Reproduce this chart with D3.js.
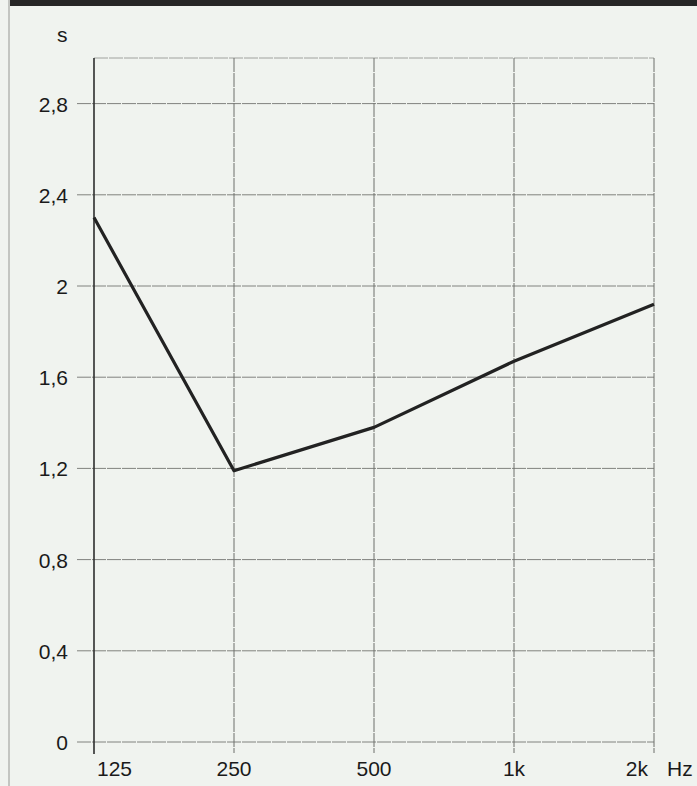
<!DOCTYPE html>
<html>
  <body>
    <script src="https://cdn.jsdelivr.net/npm/d3@7"></script>
    <style>
      body{ margin: 0; background: #f0f3ef; }
      svg{ display: block; font-family: "Liberation Sans", Arial, sans-serif; }
      .grid line{ stroke: #80827e; stroke-width: 1; stroke-dasharray: 14 1; }
      .grid .v{ stroke: #6c6e6a; }
      .lbl{ font-size: 21px; fill: #1a1a1a; }
    </style>
    <script>
var bands = ['125', '250', '500', '1k', '2k']
  , seconds = [2.30, 1.19, 1.38, 1.67, 1.92]
  , yTicks = [0, 0.4, 0.8, 1.2, 1.6, 2, 2.4, 2.8]
  , width = 697, height = 786
  , padL = 94, padR = 654, padT = 58, padB = 742

var svg = d3.select('body').append('svg')
  .attr('width', width).attr('height', height)

var x = d3.scalePoint().domain(bands).range([padL, padR])
var y = d3.scaleLinear().domain([0, 3]).range([padB, padT])

// page edge and the cut-off heading rule above the chart
svg.append('line').attr('x1', 9).attr('x2', 9).attr('y1', 0).attr('y2', height)
  .attr('stroke', '#b4b6b2').attr('stroke-width', 1.5)
svg.append('line').attr('x1', 10).attr('x2', width).attr('y1', 3).attr('y2', 3)
  .attr('stroke', '#262626').attr('stroke-width', 6)

var grid = svg.append('g').attr('class', 'grid')
grid.selectAll('.h').data(yTicks).enter().append('line')
  .attr('class', 'h')
  .attr('x1', padL - 17).attr('x2', padR)
  .attr('y1', function(d){ return y(d) }).attr('y2', function(d){ return y(d) })
grid.append('line').attr('x1', padL).attr('x2', padR).attr('y1', padT).attr('y2', padT)
  .style('stroke', '#a0a29e')
grid.selectAll('.v').data(bands.slice(1)).enter().append('line')
  .attr('class', 'v')
  .attr('x1', function(d){ return x(d) }).attr('x2', function(d){ return x(d) })
  .attr('y1', padT).attr('y2', padB + 11)

// y axis
svg.append('line').attr('x1', padL).attr('x2', padL).attr('y1', padT).attr('y2', padB + 12)
  .attr('stroke', '#2e2e2e').attr('stroke-width', 1.6)

svg.selectAll('.ylab').data(yTicks).enter().append('text')
  .attr('class', 'lbl ylab').attr('text-anchor', 'end')
  .attr('x', 68).attr('y', function(d){ return y(d) + 8 })
  .text(function(d){ return String(d).replace('.', ',') })

svg.selectAll('.xlab').data(bands).enter().append('text')
  .attr('class', 'lbl xlab')
  .attr('text-anchor', function(d, i){ return i == 0 ? 'start' : i == bands.length - 1 ? 'end' : 'middle' })
  .attr('x', function(d, i){ return x(d) + (i == 0 ? 3 : i == bands.length - 1 ? -6 : 0) })
  .attr('y', 776)
  .text(function(d){ return d })

svg.append('text').attr('class', 'lbl').attr('x', 667).attr('y', 776).text('Hz')
svg.append('text').attr('class', 'lbl').attr('x', 57).attr('y', 42).text('s')

var line = d3.line()
  .x(function(d, i){ return x(bands[i]) })
  .y(function(d){ return y(d) })

svg.append('path').datum(seconds)
  .attr('d', line)
  .attr('fill', 'none').attr('stroke', '#222').attr('stroke-width', 3.2)
  .attr('stroke-linejoin', 'round')
    </script>
  </body>
</html>
